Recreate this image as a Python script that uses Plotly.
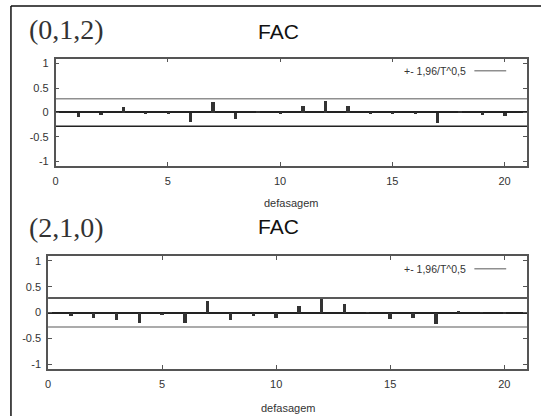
import plotly.graph_objects as go

# ---- data ----
lags = list(range(1, 21))
acf_012 = [-0.08, -0.05, 0.11, -0.02, -0.02, -0.18, 0.23, -0.12, 0.03, -0.02,
           0.13, 0.245, 0.14, -0.02, -0.03, -0.02, -0.20, 0.02, -0.04, -0.06]
acf_210 = [-0.06, -0.10, -0.15, -0.19, -0.04, -0.20, 0.22, -0.15, -0.07, -0.10,
           0.13, 0.26, 0.17, 0.01, -0.12, -0.10, -0.22, 0.04, 0.01, -0.01]
conf_band = 0.28
x_range = [0, 21]
y_range = [-1.1, 1.1]
x_ticks = [0, 5, 10, 15, 20]
y_ticks = [-1, -0.5, 0, 0.5, 1]
y_tick_labels = ["-1", "-0.5", "0", "0.5", "1"]
model_labels = ["(0,1,2)", "(2,1,0)"]
title_text = "FAC"
x_label = "defasagem"
legend_text = "+- 1,96/T^0,5"

W, H = 541, 417
SANS = "Liberation Sans, Arial, sans-serif"
SERIF = "Liberation Serif, Times New Roman, serif"


def px(x):
    return x / W


def py(y):
    return 1 - y / H


panels = [
    dict(acf=acf_012, sfx="", left=52.9, right=527, top=58, bottom=166,
         upper="#8f8f8f", lower="#222222", label=model_labels[0],
         label_y=29, title_y=31, xlab_y=203, leg_y=70),
    dict(acf=acf_210, sfx="2", left=45.3, right=527, top=256, bottom=370,
         upper="#222222", lower="#8f8f8f", label=model_labels[1],
         label_y=228, title_y=227, xlab_y=409, leg_y=269),
]

fig = go.Figure()
annotations = []
shapes = []
layout_axes = {}

for p in panels:
    xa = "x" + p["sfx"]
    ya = "y" + p["sfx"]
    fig.add_trace(go.Scatter(x=x_range, y=[conf_band, conf_band], mode="lines",
                             line=dict(color=p["upper"], width=1.5),
                             xaxis=xa, yaxis=ya, showlegend=False, hoverinfo="skip"))
    fig.add_trace(go.Scatter(x=x_range, y=[-conf_band, -conf_band], mode="lines",
                             line=dict(color=p["lower"], width=1.5),
                             xaxis=xa, yaxis=ya, showlegend=False, hoverinfo="skip"))
    fig.add_trace(go.Bar(x=lags, y=p["acf"], width=0.15,
                         marker=dict(color="#333333", line=dict(width=0)),
                         xaxis=xa, yaxis=ya, showlegend=False))

    layout_axes["xaxis" + p["sfx"]] = dict(
        domain=[px(p["left"]), px(p["right"])], anchor=ya, range=x_range,
        tickvals=x_ticks, ticks="inside", ticklen=4, tickcolor="#555",
        showline=True, linecolor="#555", linewidth=1.5, mirror="ticks",
        showgrid=False, zeroline=False, ticklabelstandoff=4,
        tickfont=dict(family=SANS, size=11, color="#333"))
    layout_axes["yaxis" + p["sfx"]] = dict(
        domain=[py(p["bottom"]), py(p["top"])], anchor=xa, range=y_range,
        tickvals=y_ticks, ticktext=y_tick_labels, ticks="inside", ticklen=4,
        tickcolor="#555", showline=True, linecolor="#555", linewidth=1.5,
        mirror="ticks", showgrid=False, zeroline=True, zerolinecolor="#222",
        zerolinewidth=1.5, ticklabelstandoff=3,
        tickfont=dict(family=SANS, size=11, color="#333"))

    annotations += [
        dict(text=p["label"], x=px(24), y=py(p["label_y"]), xref="paper", yref="paper",
             xanchor="left", yanchor="middle", showarrow=False,
             font=dict(family=SERIF, size=28, color="#333")),
        dict(text=title_text, x=px(277), y=py(p["title_y"]), xref="paper", yref="paper",
             xanchor="center", yanchor="middle", showarrow=False,
             font=dict(family=SANS, size=21, color="#111")),
        dict(text=x_label, x=px((p["left"] + p["right"]) / 2), y=py(p["xlab_y"]),
             xref="paper", yref="paper", xanchor="center", yanchor="middle",
             showarrow=False, font=dict(family=SANS, size=11, color="#333")),
        dict(text=legend_text, x=px(468), y=py(p["leg_y"]), xref="paper", yref="paper",
             xanchor="right", yanchor="middle", showarrow=False,
             font=dict(family=SANS, size=10.5, color="#333")),
    ]
    shapes.append(dict(type="line", xref="paper", yref="paper",
                       x0=px(474), x1=px(506), y0=py(p["leg_y"]), y1=py(p["leg_y"]),
                       line=dict(color="#8f8f8f", width=1.5)))

# outer frame (left and top edges)
shapes += [
    dict(type="line", xref="paper", yref="paper", x0=px(8), x1=px(8), y0=0, y1=py(5),
         line=dict(color="#111", width=1.5)),
    dict(type="line", xref="paper", yref="paper", x0=px(8), x1=1, y0=py(5), y1=py(5),
         line=dict(color="#111", width=1.5)),
]

fig.update_layout(
    width=W, height=H, margin=dict(l=0, r=0, t=0, b=0),
    paper_bgcolor="white", plot_bgcolor="white",
    annotations=annotations, shapes=shapes, bargap=0,
    **layout_axes,
)

fig.write_html(
    "out.html",
    config={"displayModeBar": False},
    post_script="document.body.style.margin='0';document.body.style.overflow='hidden';",
)
